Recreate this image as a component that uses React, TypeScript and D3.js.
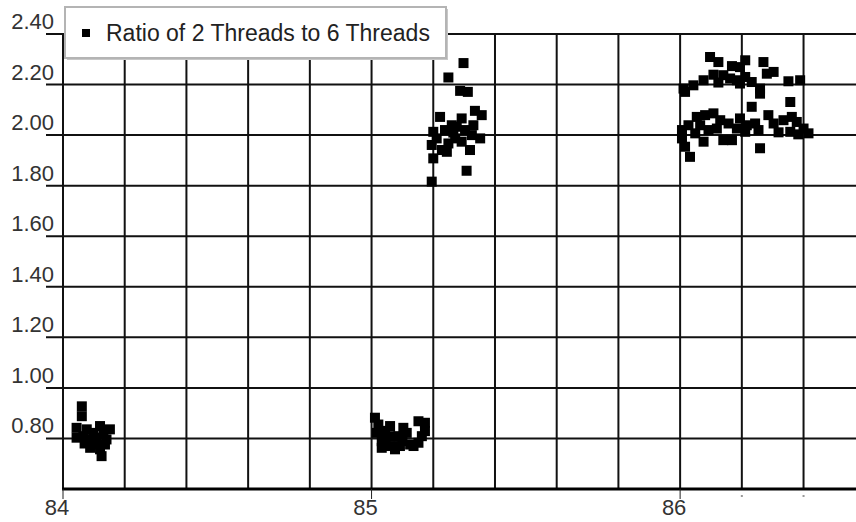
import * as d3 from 'd3'

const W = 856
const H = 522
const MARGIN = { top: 34, right: 0, bottom: 33, left: 63 }

const SERIES_NAME = 'Ratio of 2 Threads to 6 Threads'

// [x, ratio], one array per burst
const burst84: [number, number][] = [
  [84.061, 0.927], [84.061, 0.888], [84.044, 0.842], [84.044, 0.803], [84.077, 0.836],
  [84.082, 0.796], [84.12, 0.849], [84.152, 0.836], [84.109, 0.803], [84.141, 0.796],
  [84.088, 0.763], [84.12, 0.757], [84.125, 0.73], [84.098, 0.822], [84.131, 0.816],
  [84.066, 0.809], [84.114, 0.776], [84.136, 0.776], [84.1, 0.79], [84.07, 0.78],
]

const burst85a: [number, number][] = [
  [85.011, 0.882], [85.022, 0.855], [85.017, 0.822], [85.033, 0.789], [85.033, 0.763],
  [85.06, 0.849], [85.06, 0.809], [85.06, 0.77], [85.087, 0.809], [85.092, 0.77],
  [85.114, 0.822], [85.125, 0.776], [85.103, 0.842], [85.152, 0.868], [85.173, 0.862],
  [85.163, 0.809], [85.173, 0.829], [85.152, 0.783], [85.136, 0.77], [85.076, 0.757],
  [85.044, 0.83], [85.1, 0.79], [85.045, 0.8],
]

const burst85b: [number, number][] = [
  [85.298, 2.285], [85.249, 2.228], [85.287, 2.175], [85.312, 2.171], [85.222, 2.072],
  [85.335, 2.096], [85.357, 2.079], [85.292, 2.066], [85.26, 2.039], [85.276, 2.033],
  [85.238, 2.02], [85.2, 2.013], [85.303, 2.02], [85.33, 2.039], [85.352, 1.987],
  [85.325, 2.0], [85.271, 1.987], [85.249, 1.967], [85.195, 1.961], [85.228, 1.941],
  [85.244, 1.934], [85.319, 1.941], [85.2, 1.908], [85.308, 1.859], [85.195, 1.816],
  [85.211, 1.987], [85.292, 1.974], [85.265, 2.01],
]

const burst86: [number, number][] = [
  // upper band
  [86.097, 2.309], [86.124, 2.289], [86.168, 2.273], [86.194, 2.269], [86.108, 2.239],
  [86.14, 2.237], [86.076, 2.217], [86.124, 2.208], [86.043, 2.197], [86.162, 2.224],
  [86.184, 2.217], [86.011, 2.184], [86.016, 2.171], [86.194, 2.204],
  [86.211, 2.296], [86.27, 2.289], [86.281, 2.243], [86.303, 2.25], [86.211, 2.23],
  [86.232, 2.21], [86.259, 2.184], [86.259, 2.164], [86.351, 2.213], [86.389, 2.217],
  [86.357, 2.131],
  // lower band
  [86.054, 2.072], [86.081, 2.079], [86.108, 2.086], [86.027, 2.039], [86.065, 2.039],
  [86.13, 2.059], [86.157, 2.046], [86.194, 2.066], [86.006, 2.02], [86.092, 2.02],
  [86.119, 2.026], [86.184, 2.026], [86.049, 2.007], [86.006, 1.987], [86.076, 1.974],
  [86.14, 1.98], [86.016, 1.954], [86.032, 1.914], [86.168, 1.98],
  [86.232, 2.112], [86.286, 2.079], [86.362, 2.072], [86.216, 2.039], [86.243, 2.046],
  [86.303, 2.046], [86.335, 2.059], [86.378, 2.052], [86.254, 2.02], [86.319, 2.011],
  [86.357, 2.013], [86.4, 2.026], [86.416, 2.007], [86.211, 2.013], [86.259, 1.948],
  [86.383, 2.003],
]

const xGrid = [84, 84.2, 84.4, 84.6, 84.8, 85, 85.2, 85.4, 85.6, 85.8, 86, 86.2, 86.4]
const xLabels = ['84', '85', '86']
const xMinor = [86.2, 86.4]
const yTicks = [0.8, 1.0, 1.2, 1.4, 1.6, 1.8, 2.0, 2.2, 2.4]

const FONT = '"Liberation Sans", Arial, sans-serif'

export default function App() {
  const x = d3.scaleLinear().domain([84, 86.57]).range([MARGIN.left, W - MARGIN.right])
  const y = d3.scaleLinear().domain([0.6, 2.4]).range([H - MARGIN.bottom, MARGIN.top])
  const points = [...burst84, ...burst85a, ...burst85b, ...burst86]
  const fmt = d3.format('.2f')
  const S = 10

  const top = y(2.4)
  const bottom = y(0.6)

  return (
    <svg width={W} height={H} style={{ position: 'fixed', left: 0, top: 0, background: '#fff' }} fontFamily={FONT}>
      {/* horizontal grid + y ticks */}
      {yTicks.map(t => (
        <g key={t}>
          <line x1={MARGIN.left - 17} x2={W} y1={y(t)} y2={y(t)} stroke="#111" strokeWidth={2} />
          <text x={54} y={y(t) - 5} textAnchor="end" fontSize={22} fill="#333">{fmt(t)}</text>
        </g>
      ))}

      {/* vertical grid */}
      {xGrid.map(t => (
        <line key={t} x1={x(t)} x2={x(t)} y1={top} y2={bottom} stroke="#111" strokeWidth={2} />
      ))}

      {/* axes */}
      <line x1={MARGIN.left} x2={MARGIN.left} y1={top} y2={bottom} stroke="#111" strokeWidth={2} />
      <line x1={MARGIN.left - 1} x2={W} y1={bottom} y2={bottom} stroke="#000" strokeWidth={3} />

      {xLabels.map(l => (
        <g key={l}>
          <text x={x(+l) - 6} y={515} textAnchor="middle" fontSize={22} fill="#333">{l}</text>
          <line x1={x(+l)} x2={x(+l)} y1={bottom} y2={bottom + 10} stroke="#222" strokeWidth={1} />
        </g>
      ))}
      {xMinor.map(t => (
        <rect key={t} x={x(t) - 1} y={bottom + 6} width={2} height={2} fill="#999" />
      ))}

      {/* points */}
      {points.map((d, i) => (
        <rect key={i} x={x(d[0]) - S / 2} y={y(d[1]) - S / 2} width={S} height={S} fill="#000" />
      ))}

      {/* legend */}
      <rect x={67} y={9} width={381} height={51} fill="#c8c8c8" />
      <rect x={65} y={7} width={381} height={51} fill="#fff" stroke="#b4b4b4" strokeWidth={2} />
      <rect x={82} y={29} width={8} height={8} fill="#000" />
      <text x={106} y={41} fontSize={23} fill="#222">{SERIES_NAME}</text>
    </svg>
  )
}
